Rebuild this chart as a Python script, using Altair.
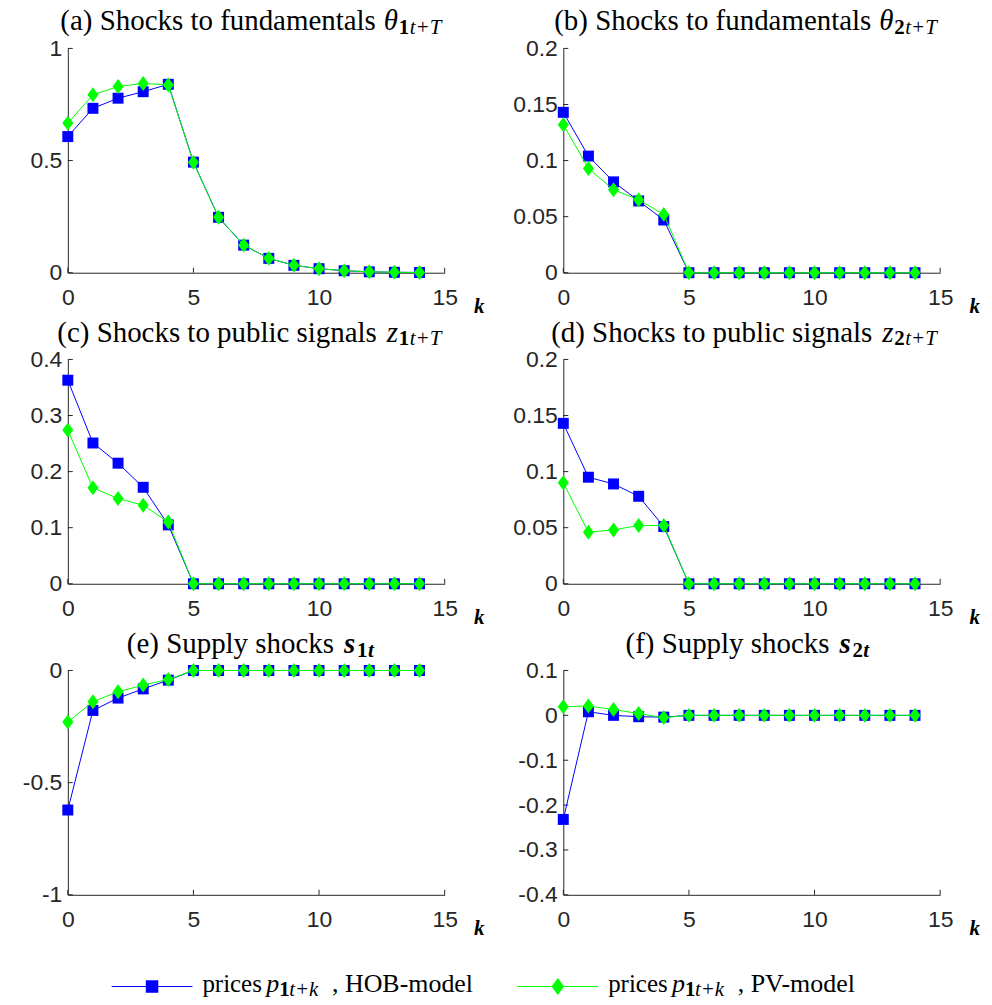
import altair as alt
import pandas as pd

# ---------------- data ----------------
K = [0, 1, 2, 3, 4, 5, 6, 7, 8, 9, 10, 11, 12, 13, 14]
MODELS = ["HOB", "PV"]

a_hob = [0.607, 0.733, 0.778, 0.807, 0.840, 0.493, 0.247, 0.123, 0.064, 0.033, 0.018, 0.009, 0.004, 0.002, 0.001]
a_pv = [0.667, 0.793, 0.830, 0.844, 0.837, 0.492, 0.247, 0.123, 0.064, 0.033, 0.018, 0.009, 0.004, 0.002, 0.001]
b_hob = [0.143, 0.104, 0.081, 0.064, 0.047, 0, 0, 0, 0, 0, 0, 0, 0, 0, 0]
b_pv = [0.132, 0.093, 0.074, 0.065, 0.052, 0, 0, 0, 0, 0, 0, 0, 0, 0, 0]
c_hob = [0.363, 0.251, 0.215, 0.172, 0.105, 0, 0, 0, 0, 0, 0, 0, 0, 0, 0]
c_pv = [0.274, 0.171, 0.152, 0.140, 0.110, 0, 0, 0, 0, 0, 0, 0, 0, 0, 0]
d_hob = [0.143, 0.095, 0.089, 0.078, 0.051, 0, 0, 0, 0, 0, 0, 0, 0, 0, 0]
d_pv = [0.090, 0.046, 0.048, 0.052, 0.052, 0, 0, 0, 0, 0, 0, 0, 0, 0, 0]
e_hob = [-0.622, -0.178, -0.123, -0.082, -0.043, 0, 0, 0, 0, 0, 0, 0, 0, 0, 0]
e_pv = [-0.230, -0.139, -0.095, -0.065, -0.040, 0, 0, 0, 0, 0, 0, 0, 0, 0, 0]
f_hob = [-0.232, 0.008, 0.000, -0.003, -0.004, 0, 0, 0, 0, 0, 0, 0, 0, 0, 0]
f_pv = [0.019, 0.021, 0.013, 0.004, -0.005, 0, 0, 0, 0, 0, 0, 0, 0, 0, 0]

SERIES = [(a_hob, a_pv), (b_hob, b_pv), (c_hob, c_pv), (d_hob, d_pv), (e_hob, e_pv), (f_hob, f_pv)]

Y_DOMAINS = [[0, 1], [0, 0.2], [0, 0.4], [0, 0.2], [-1, 0], [-0.4, 0.1]]
Y_TICKS = [
    [0, 0.5, 1],
    [0, 0.05, 0.1, 0.15, 0.2],
    [0, 0.1, 0.2, 0.3, 0.4],
    [0, 0.05, 0.1, 0.15, 0.2],
    [-1, -0.5, 0],
    [-0.4, -0.3, -0.2, -0.1, 0, 0.1],
]
X_TICKS = [0, 5, 10, 15]
X_DOMAIN = [0, 15]
X_LABEL = "k"

TITLE_MAIN = [
    "(a) Shocks to fundamentals",
    "(b) Shocks to fundamentals",
    "(c) Shocks to public signals",
    "(d) Shocks to public signals",
    "(e) Supply shocks",
    "(f) Supply shocks",
]
TITLE_SYM = ["θ", "θ", "z", "z", "s", "s"]
TITLE_SUB1 = ["1", "2", "1", "2", "1", "2"]
TITLE_SUB2 = ["t+T", "t+T", "t+T", "t+T", "t", "t"]

LEGEND_WORD = "prices"
LEGEND_SYM = "p"
LEGEND_SUB1 = "1"
LEGEND_SUB2 = "t+k"
LEGEND_TAIL = [", HOB-model", ", PV-model"]

# ---------------- style ----------------
W, H = 378, 225
BLUE = "#0000ff"
GREEN = "#00ff00"
AXC = "#262626"
SERIF = "Liberation Serif"
SANS = "Liberation Sans"
DIAMOND = "M0,-1L0.74,0L0,1L-0.74,0Z"
MARK_STYLE = {"HOB": (BLUE, "square", 121), "PV": (GREEN, DIAMOND, 225)}

# title piece x-positions (main right edge, symbol left, subscript left)
TITLE_POS = [(309, 317, 332), (309, 317, 332), (310, 320, 332), (310, 320, 332), (267, 277, 290), (267, 277, 290)]
TITLE_Y, SUB_Y = -18, -14
ONE = alt.InlineData(values=[{"one": 1}])


def text_piece(txt, x, y, size, style="normal", weight="normal", align="left"):
    return alt.Chart(ONE).mark_text(
        align=align, baseline="alphabetic", font=SERIF, fontSize=size,
        fontStyle=style, fontWeight=weight, color="black"
    ).encode(x=alt.value(x), y=alt.value(y), text=alt.value(txt))


def make_panel(i):
    hob, pv = SERIES[i]
    df = pd.DataFrame({
        "k": K + K,
        "value": hob + pv,
        "model": ["HOB"] * len(K) + ["PV"] * len(K),
    })
    xenc = alt.X(
        "k:Q",
        scale=alt.Scale(domain=X_DOMAIN, nice=False, zero=False),
        axis=alt.Axis(
            values=X_TICKS, title=X_LABEL, titleX=407, titleY=40, titleAlign="left",
            titleBaseline="alphabetic", titleFont=SERIF, titleFontStyle="italic",
            titleFontWeight="bold", titleFontSize=21, titleColor="black",
            labelFlush=False, labelOverlap=False, labelBound=False,
        ),
    )
    yenc = alt.Y(
        "value:Q",
        scale=alt.Scale(domain=Y_DOMAINS[i], nice=False, zero=False),
        axis=alt.Axis(
            values=Y_TICKS[i], title=None, labelExpr="'' + datum.value",
            labelFlush=False, labelOverlap=False, labelBound=False,
        ),
    )
    layers = []
    # inward tick marks
    layers.append(
        alt.Chart(pd.DataFrame({"value": Y_TICKS[i]})).mark_rule(color=AXC, strokeWidth=1).encode(
            y=alt.Y("value:Q"), x=alt.value(0), x2=alt.value(5)
        )
    )
    layers.append(
        alt.Chart(pd.DataFrame({"k": X_TICKS})).mark_rule(color=AXC, strokeWidth=1).encode(
            x=alt.X("k:Q"), y=alt.value(H), y2=alt.value(H - 5)
        )
    )
    base = alt.Chart(df)
    for m in MODELS:
        color, shape, size = MARK_STYLE[m]
        sub = base.transform_filter(alt.datum.model == m)
        layers.append(sub.mark_line(color=color, strokeWidth=1).encode(x=xenc, y=yenc))
        layers.append(
            sub.mark_point(filled=True, shape=shape, size=size, color=color, opacity=1).encode(x=xenc, y=yenc)
        )
    # title pieces
    r, sx, subx = TITLE_POS[i]
    symweight = "bold" if TITLE_SYM[i] == "s" else "normal"
    layers.append(text_piece(TITLE_MAIN[i], r, TITLE_Y, 29, align="right"))
    layers.append(text_piece(TITLE_SYM[i], sx, TITLE_Y, 29, style="italic", weight=symweight))
    layers.append(text_piece(TITLE_SUB1[i], subx, SUB_Y, 21, weight="bold"))
    layers.append(text_piece(TITLE_SUB2[i], subx + 11, SUB_Y, 21, style="italic", weight=symweight))
    if i == 0:
        # invisible anchor fixing the top-left corner of the figure
        layers.append(
            alt.Chart(ONE).mark_rule(strokeOpacity=0).encode(
                x=alt.value(-60), x2=alt.value(-60), y=alt.value(-41), y2=alt.value(-41)
            )
        )
    return alt.layer(*layers).properties(width=W, height=H)


panels = [make_panel(i) for i in range(6)]

# ---------------- legend ----------------
leg_layers = []
for j, m in enumerate(MODELS):
    color, shape, size = MARK_STYLE[m]
    off = 407 * j
    leg_layers.append(
        alt.Chart(ONE).mark_rule(color=color, strokeWidth=1).encode(
            x=alt.value(44 + off), x2=alt.value(125 + off), y=alt.value(5)
        )
    )
    leg_layers.append(
        alt.Chart(ONE).mark_point(filled=True, shape=shape, size=size * 1.3, color=color, opacity=1).encode(
            x=alt.value(84.5 + off), y=alt.value(5)
        )
    )
    leg_layers.append(text_piece(LEGEND_WORD, 135 + off, 10, 25))
    leg_layers.append(text_piece(LEGEND_SYM, 199 + off, 10, 26, style="italic"))
    leg_layers.append(text_piece(LEGEND_SUB1, 212 + off, 15, 21, weight="bold"))
    leg_layers.append(text_piece(LEGEND_SUB2, 222 + off, 15, 21, style="italic"))
    leg_layers.append(text_piece(LEGEND_TAIL[j], 265 + off, 10, 26))

legend = alt.layer(*leg_layers).properties(width=W, height=20)

chart = (
    alt.concat(*panels, legend, columns=2, spacing={"row": 87, "column": 119}, bounds="flush")
    .properties(padding={"left": 0, "top": -2, "right": 4, "bottom": 2}, background="white")
    .configure_view(strokeWidth=0)
    .configure_axis(
        domainColor=AXC, domainWidth=1, labelColor=AXC, labelFont=SANS, labelFontSize=23,
        ticks=False, grid=False,
    )
    .configure_axisX(labelPadding=14)
    .configure_axisY(labelPadding=6)
)

chart.save("out.html", embed_options={"renderer": "svg", "actions": False})
